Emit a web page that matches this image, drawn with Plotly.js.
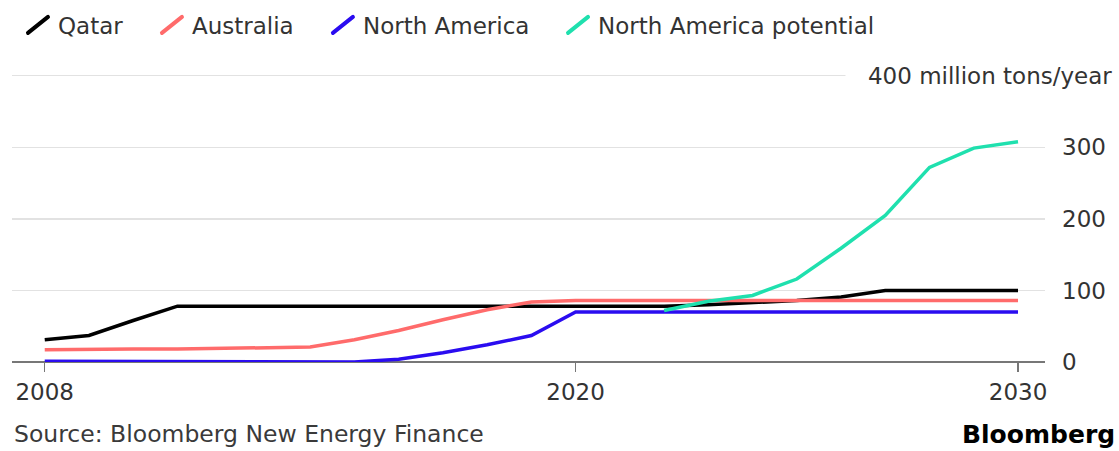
<!DOCTYPE html>
<html>
<head>
<meta charset="utf-8">
<script src="https://cdn.plot.ly/plotly-3.0.1.min.js"></script>
<style>html,body{margin:0;padding:0;background:#fff;}#chart{width:1119px;height:451px;}</style>
</head>
<body>
<div id="chart"></div>
<script>
const years = [2008,2009,2010,2011,2012,2013,2014,2015,2016,2017,2018,2019,2020,2021,2022,2023,2024,2025,2026,2027,2028,2029,2030];
const qatar = [31,37,58,78,78,78,78,78,78,78,78,78,78,78,78,80,83,86,91,100,100,100,100];
const australia = [17,18,18,18,19,20,21,31,44,59,73,84,86,86,86,86,86,86,86,86,86,86,86];
const northAmerica = [1,1,1,1,1,0,0,0,4,13,24,37,70,70,70,70,70,70,70,70,70,70,70];
const potentialYears = [2022,2023,2024,2025,2026,2027,2028,2029,2030];
const northAmericaPotential = [72,85,93,116,159,205,272,299,308];
const xTicks = [2008,2020,2030];
const yTicks = [0,100,200,300,400];
const yTickText = ['0','100','200','300',''];

const FONT = 'DejaVu Sans, sans-serif';
const TXT = '#333';
const mk = (name, x, y, color, legend) => ({type:'scatter', mode:'lines', name, x, y,
  line:{color, width:3.5}, hoverinfo:'skip', legend});

const data = [
  mk('Qatar', years, qatar, '#000000', 'legend'),
  mk('Australia', years, australia, '#ff6b6b', 'legend2'),
  mk('North America', years, northAmerica, '#2a0cf0', 'legend3'),
  mk('North America potential', potentialYears, northAmericaPotential, '#1fe0ae', 'legend4')
];

const lg = (x) => ({orientation:'h', x, xref:'paper', xanchor:'left', y:0.9446, yref:'container', yanchor:'middle',
  font:{family:FONT, size:23, color:TXT}, itemwidth:30, bgcolor:'rgba(0,0,0,0)', borderwidth:0});

const layout = {
  width:1119, height:451,
  margin:{l:12, r:74, t:73, b:89, autoexpand:false},
  paper_bgcolor:'#fff', plot_bgcolor:'#fff',
  font:{family:FONT, color:TXT, size:23},
  showlegend:true,
  legend:lg(0.0058), legend2:lg(0.1355), legend3:lg(0.301), legend4:lg(0.5286),
  xaxis:{range:[2007.26, 2030.61], tickvals:xTicks, ticktext:xTicks.map(String),
    showgrid:false, zeroline:false, showline:false, ticks:'outside', ticklen:9,
    tickcolor:'#777', tickwidth:1.5, tickfont:{family:FONT, size:23, color:TXT}, fixedrange:true},
  yaxis:{range:[0,404], side:'right', tickvals:yTicks, ticktext:yTickText,
    showgrid:true, gridcolor:'#e2e2e2', gridwidth:1.2, zeroline:true, zerolinecolor:'#777', zerolinewidth:2,
    showline:false, ticks:'', ticklabelstandoff:16,
    tickfont:{family:FONT, size:23, color:TXT}, fixedrange:true},
  annotations:[
    {text:'\u00a0\u00a0\u00a0400 million tons/year', xref:'paper', yref:'y', x:1.066, y:400,
      xanchor:'right', yanchor:'middle', showarrow:false, bgcolor:'#fff', borderpad:0,
      font:{family:FONT, size:23, color:TXT}},
    {text:'Source: Bloomberg New Energy Finance', xref:'paper', yref:'paper', x:0, y:-0.25,
      xanchor:'left', yanchor:'middle', showarrow:false, font:{family:FONT, size:23.5, color:'#3a3a3a'}},
    {text:'<b>Bloomberg</b>', xref:'paper', yref:'paper', x:1.0697, y:-0.25,
      xanchor:'right', yanchor:'middle', showarrow:false, font:{family:FONT, size:25, color:'#000'}}
  ]
};

Plotly.newPlot('chart', data, layout, {displayModeBar:false, staticPlot:true}).then(function(gd){
  gd.querySelectorAll('.legendlines path').forEach(function(p){
    p.setAttribute('d','M10,8L30,-8');
    p.style.strokeLinecap='round';
    p.style.strokeWidth='4px';
  });
});
</script>
</body>
</html>
